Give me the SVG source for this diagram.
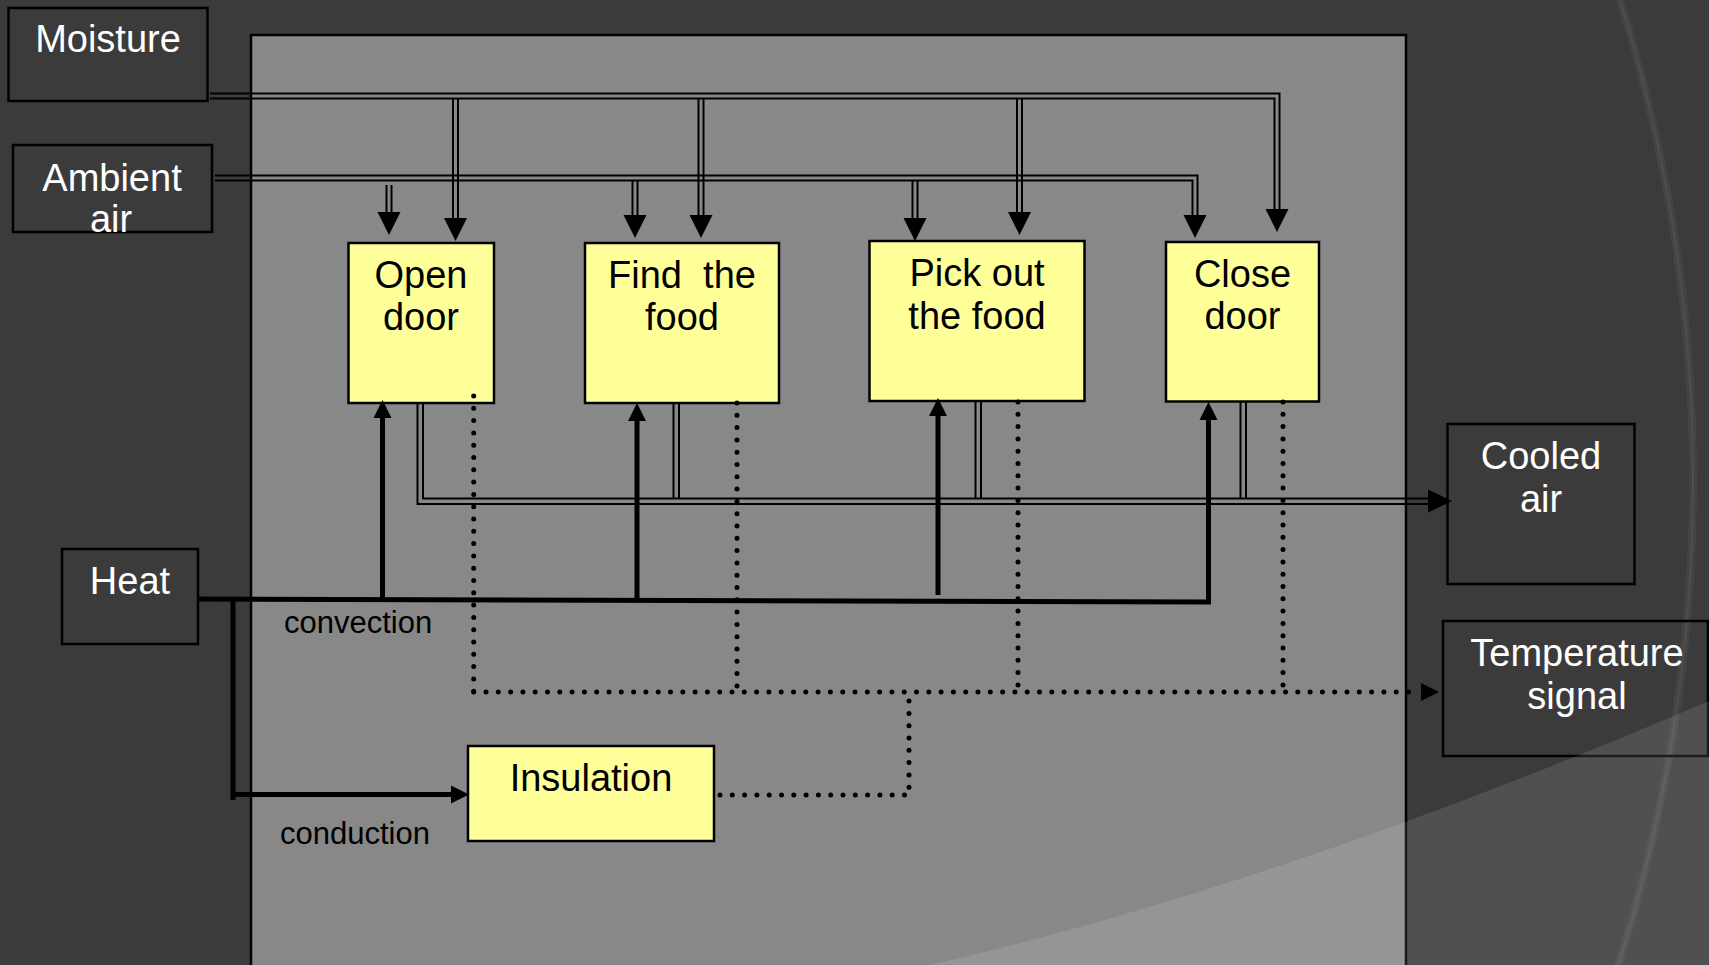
<svg xmlns="http://www.w3.org/2000/svg" width="1709" height="965" viewBox="0 0 1709 965">
<defs>
<style>
.wt{font-family:"Liberation Sans",Arial,sans-serif;font-size:38px;fill:#fff;text-anchor:middle}
.bt{font-family:"Liberation Sans",Arial,sans-serif;font-size:38px;fill:#000;text-anchor:middle}
.lbl{font-family:"Liberation Sans",Arial,sans-serif;font-size:31px;fill:#000}
.dark{fill:none;stroke:#000;stroke-width:2.5}
.yel{fill:#ffff99;stroke:#000;stroke-width:2.5}
.dbl{stroke:#000;stroke-width:2;fill:none}
.thick{stroke:#000;stroke-width:5;fill:none;stroke-linejoin:miter}
.dot{stroke:#000;stroke-width:5;stroke-linecap:round;stroke-dasharray:0 12.3;fill:none}
.ah{fill:#000}
</style>
</defs>
<rect x="0" y="0" width="1709" height="965" fill="#3b3b3b"/>
<circle cx="78" cy="480" r="1615" fill="none" stroke="#444" stroke-width="8"/>
<circle cx="78" cy="480" r="1615" fill="none" stroke="#4e4e4e" stroke-width="2"/>
<rect id="panel" x="251" y="35" width="1155" height="960" fill="#888888" stroke="#000" stroke-width="2.5"/>

<g id="moisture"><rect class="dark" x="8.5" y="8" width="199" height="93"/><text class="wt" x="108" y="52">Moisture</text></g>
<g id="ambient"><rect class="dark" x="13" y="145" width="199" height="87"/><text class="wt" x="112" y="191">Ambient</text><text class="wt" x="111" y="232">air</text></g>
<g id="heat"><rect class="dark" x="62" y="549" width="136" height="95"/><text class="wt" x="130" y="594">Heat</text></g>
<g id="cooled"><rect class="dark" x="1447.5" y="424" width="187" height="160"/><text class="wt" x="1541" y="469">Cooled</text><text class="wt" x="1541" y="512">air</text></g>
<g id="tempsignal"><rect class="dark" x="1443" y="621" width="265" height="135"/><text class="wt" x="1577" y="666">Temperature</text><text class="wt" x="1577" y="709">signal</text></g>
<g id="opendoor"><rect class="yel" x="348.5" y="243" width="145.5" height="160"/><text class="bt" x="421" y="288">Open</text><text class="bt" x="421" y="330">door</text></g>
<g id="findfood"><rect class="yel" x="585" y="243" width="194" height="160"/><text class="bt" x="682" y="288" xml:space="preserve">Find  the</text><text class="bt" x="682" y="330">food</text></g>
<g id="pickout"><rect class="yel" x="869.5" y="241" width="215" height="160"/><text class="bt" x="977" y="286">Pick out</text><text class="bt" x="977" y="329">the food</text></g>
<g id="closedoor"><rect class="yel" x="1166" y="242" width="153" height="159.5"/><text class="bt" x="1242.5" y="287">Close</text><text class="bt" x="1242.5" y="329">door</text></g>
<g id="insulation"><rect class="yel" x="468" y="746" width="246" height="95"/><text class="bt" x="591" y="791">Insulation</text></g>

<g id="connectors">
<!-- moisture -->
<path class="dbl" d="M210 93.5 H1279.5 V215"/>
<path class="dbl" d="M210 98.5 H1274.5 V215"/>
<path class="dbl" d="M453 98.5 V222 M458 98.5 V222"/>
<path class="dbl" d="M698.5 98.5 V219 M703.5 98.5 V219"/>
<path class="dbl" d="M1017 98.5 V216 M1022 98.5 V216"/>
<polygon class="ah" points="444,218 467,218 455.5,241"/>
<polygon class="ah" points="689.5,215 712.5,215 701,238"/>
<polygon class="ah" points="1008,212 1031,212 1019.5,235"/>
<polygon class="ah" points="1265.5,209 1288.5,209 1277,232"/>
<!-- ambient air -->
<path class="dbl" d="M215 175.5 H1197.5 V220"/>
<path class="dbl" d="M215 180.5 H1192.5 V220"/>
<path class="dbl" d="M386.5 185 V216 M391.5 185 V216"/>
<path class="dbl" d="M632.5 180.5 V219 M637.5 180.5 V219"/>
<path class="dbl" d="M912.5 180.5 V222 M917.5 180.5 V222"/>
<polygon class="ah" points="377.5,212 400.5,212 389,235"/>
<polygon class="ah" points="623.5,215 646.5,215 635,238"/>
<polygon class="ah" points="903.5,218 926.5,218 915,241"/>
<polygon class="ah" points="1183.5,215 1206.5,215 1195,238"/>
<!-- cooled air -->
<path class="dbl" d="M417.5 403 V504 H1432"/>
<path class="dbl" d="M423 403 V498.5 H1432"/>
<path class="dbl" d="M673.5 403 V498.5 M679 403 V498.5"/>
<path class="dbl" d="M975.5 401 V498.5 M981 401 V498.5"/>
<path class="dbl" d="M1240.5 402 V498.5 M1246 402 V498.5"/>
<polygon class="ah" points="1428,489.5 1428,512.5 1452,501"/>
<!-- heat -->
<path class="thick" d="M198 599 L1208.5 602 L1208.5 418"/>
<path class="thick" d="M382.5 599 V416 M637 600 V419 M938 595 V414"/>
<polygon class="ah" points="1199.5,420 1217.5,420 1208.5,402"/>
<polygon class="ah" points="373.5,418 391.5,418 382.5,400"/>
<polygon class="ah" points="628,421 646,421 637,403"/>
<polygon class="ah" points="929,416 947,416 938,398"/>
<path class="thick" d="M233 599 V800 M233 794.5 H453"/>
<polygon class="ah" points="451,785.5 451,803.5 469,794.5"/>
<!-- temperature signal -->
<path class="dot" d="M473.7 396 V692"/>
<path class="dot" d="M737 403 V692"/>
<path class="dot" d="M1018 402 V692"/>
<path class="dot" d="M1283 402 V692"/>
<path class="dot" d="M473.7 692 H1418"/>
<path class="dot" d="M720 795 H909 V692"/>
<polygon class="ah" points="1421,683 1421,701 1439,692"/>
</g>
<text class="lbl" x="284" y="633">convection</text>
<text class="lbl" x="280" y="844">conduction</text>
<path d="M930 965 Q1280 885 1709 701 L1709 965 Z" fill="#fff" fill-opacity="0.11"/>
</svg>
